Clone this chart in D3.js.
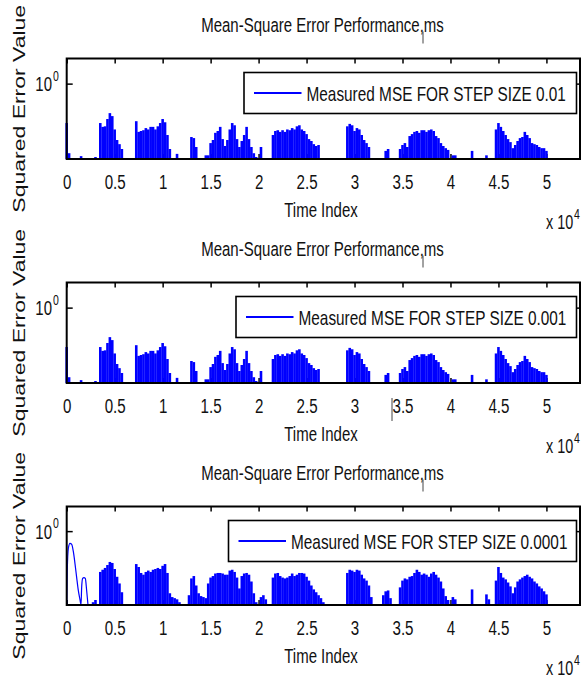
<!DOCTYPE html>
<html>
<head>
<meta charset="utf-8">
<script src="https://cdn.jsdelivr.net/npm/d3@7"></script>
<style>
  html, body { margin: 0; padding: 0; background: #fff; }
  svg { display: block; }
  text { font-family: "Liberation Sans", Arial, Helvetica, sans-serif; fill: #111; }
</style>
</head>
<body>
<svg id="chart" width="582" height="679"></svg>
<script>
// ---- data -----------------------------------------------------------------
// MSE samples are stored every SAMPLE_STEP time indices, starting at 0.
const SAMPLE_STEP = 250;
const xTickValues = [0, 5000, 10000, 15000, 20000, 25000, 30000, 35000, 40000, 45000, 50000];
const yTickValues = [1];
const stepSizes = ["0.01", "0.001", "0.0001"];

// step size 0.01 (0 = below the plotted range)
const mseStep001 = [
  0.027, 0.0017, 0, 0, 0, 0, 0.0013, 0, 0, 0,
  0, 0, 0.0012, 0, 0.027, 0.019, 0.020, 0.039, 0.067, 0.051,
  0.015, 0.0057, 0.0039, 0.0025, 0, 0, 0, 0, 0, 0.032,
  0.012, 0.013, 0.014, 0.017, 0.015, 0.019, 0.019, 0.015, 0.020, 0.027,
  0.039, 0.029, 0.0090, 0.0025, 0, 0, 0.0016, 0, 0, 0,
  0, 0, 0.0075, 0.0068, 0.0030, 0, 0, 0, 0.0014, 0.0014,
  0.0043, 0.0057, 0.011, 0.013, 0.019, 0.0062, 0.0033, 0.0057, 0.015, 0.027,
  0.022, 0.0062, 0.0030, 0.0052, 0.0090, 0.019, 0.0062, 0.0030, 0.0017, 0.0012,
  0, 0.0030, 0, 0, 0, 0, 0.0090, 0.013, 0.014, 0.012,
  0.014, 0.012, 0.015, 0.014, 0.017, 0.015, 0.020, 0.022, 0.015, 0.013,
  0.0098, 0.0062, 0.0052, 0.0039, 0.0033, 0.0036, 0, 0, 0, 0,
  0, 0, 0, 0, 0, 0, 0, 0.020, 0.025, 0.022,
  0.013, 0.017, 0.015, 0.0090, 0.0057, 0.0043, 0.0030, 0, 0, 0,
  0, 0, 0, 0.0021, 0.0025, 0, 0, 0, 0, 0.0025,
  0.0036, 0.0043, 0.0030, 0.0082, 0.0098, 0.012, 0.013, 0.011, 0.014, 0.014,
  0.012, 0.014, 0.015, 0.013, 0.0082, 0.0068, 0.0043, 0.0033, 0.0027, 0.0023,
  0, 0.0014, 0.0014, 0, 0, 0, 0, 0, 0, 0.0021,
  0, 0, 0, 0, 0, 0.0014, 0, 0, 0, 0.015,
  0.027, 0.019, 0.013, 0.0090, 0.0062, 0.0047, 0.0027, 0.0036, 0.0052, 0.0068,
  0.0075, 0.012, 0.0090, 0.0068, 0.0043, 0.0039, 0.0036, 0.0030, 0.0027, 0.0027,
  0.0021
];

// step size 0.001
const mseStep0001 = [
  0.027, 0.0017, 0, 0, 0, 0, 0.0013, 0, 0, 0,
  0, 0, 0.0012, 0, 0.027, 0.019, 0.020, 0.039, 0.067, 0.051,
  0.015, 0.0057, 0.0039, 0.0025, 0, 0, 0, 0, 0, 0.032,
  0.012, 0.013, 0.014, 0.017, 0.015, 0.019, 0.019, 0.015, 0.020, 0.027,
  0.039, 0.029, 0.0090, 0.0025, 0, 0, 0.0016, 0, 0, 0,
  0, 0, 0.0075, 0.0068, 0.0030, 0, 0, 0, 0.0014, 0.0014,
  0.0043, 0.0057, 0.011, 0.013, 0.019, 0.0062, 0.0033, 0.0057, 0.015, 0.027,
  0.022, 0.0062, 0.0030, 0.0052, 0.0090, 0.019, 0.0062, 0.0030, 0.0017, 0.0012,
  0, 0.0030, 0, 0, 0, 0, 0.0090, 0.013, 0.014, 0.012,
  0.014, 0.012, 0.015, 0.014, 0.017, 0.015, 0.020, 0.022, 0.015, 0.013,
  0.0098, 0.0062, 0.0052, 0.0039, 0.0033, 0.0036, 0, 0, 0, 0,
  0, 0, 0, 0, 0, 0, 0, 0.020, 0.025, 0.022,
  0.013, 0.017, 0.015, 0.0090, 0.0057, 0.0043, 0.0030, 0, 0, 0,
  0, 0, 0, 0.0021, 0.0025, 0, 0, 0, 0, 0.0025,
  0.0036, 0.0043, 0.0030, 0.0082, 0.0098, 0.012, 0.013, 0.011, 0.014, 0.014,
  0.012, 0.014, 0.015, 0.013, 0.0082, 0.0068, 0.0043, 0.0033, 0.0027, 0.0023,
  0, 0.0014, 0.0014, 0, 0, 0, 0, 0, 0, 0.0021,
  0, 0, 0, 0, 0, 0.0014, 0, 0, 0, 0.015,
  0.027, 0.019, 0.013, 0.0090, 0.0062, 0.0047, 0.0027, 0.0036, 0.0052, 0.0068,
  0.0075, 0.012, 0.0090, 0.0068, 0.0043, 0.0039, 0.0036, 0.0030, 0.0027, 0.0027,
  0.0021
];

// step size 0.0001 (the opening transient is kept separately below)
const mseStep00001 = [
  0, 0, 0, 0, 0, 0, 0, 0, 0, 0,
  0, 0.0013, 0.0016, 0, 0.022, 0.027, 0.032, 0.042, 0.056, 0.051,
  0.029, 0.014, 0.0075, 0.0033, 0, 0, 0, 0, 0, 0.046,
  0.035, 0.020, 0.017, 0.022, 0.025, 0.022, 0.027, 0.029, 0.032, 0.029,
  0.039, 0.046, 0.020, 0.0030, 0.0021, 0.0019, 0.0017, 0.0013, 0, 0,
  0, 0.0025, 0.012, 0.015, 0.0062, 0.0030, 0.0023, 0.0021, 0.0019, 0.0075,
  0.013, 0.015, 0.019, 0.020, 0.020, 0.019, 0.017, 0.017, 0.025, 0.027,
  0.022, 0.013, 0.0047, 0.015, 0.019, 0.020, 0.017, 0.0090, 0.0030, 0.0013,
  0, 0.0021, 0.0025, 0.0017, 0, 0, 0.013, 0.019, 0.020, 0.015,
  0.013, 0.012, 0.013, 0.015, 0.019, 0.015, 0.017, 0.020, 0.020, 0.019,
  0.014, 0.0098, 0.0062, 0.0043, 0.0033, 0.0025, 0.0019, 0.0013, 0, 0,
  0, 0, 0, 0, 0, 0, 0, 0.020, 0.027, 0.025,
  0.022, 0.027, 0.025, 0.017, 0.012, 0.0098, 0.0062, 0.0021, 0, 0,
  0, 0, 0.0025, 0.0036, 0.0039, 0.0019, 0, 0, 0, 0.0052,
  0.0098, 0.012, 0.011, 0.014, 0.015, 0.020, 0.027, 0.022, 0.017, 0.019,
  0.017, 0.014, 0.019, 0.022, 0.017, 0.013, 0.0090, 0.0047, 0.0023, 0.0016,
  0, 0.0021, 0.0017, 0, 0, 0, 0, 0, 0, 0.0043,
  0, 0, 0, 0, 0, 0.0027, 0.0017, 0, 0, 0.0098,
  0.035, 0.020, 0.013, 0.011, 0.0082, 0.0057, 0.0030, 0.0052, 0.0090, 0.011,
  0.013, 0.015, 0.017, 0.014, 0.012, 0.0090, 0.0075, 0.0057, 0.0047, 0.0036,
  0.0027
];

// opening transient of the 0.0001 run (slow convergence)
const startTime00001 = [0, 60, 170, 340, 520, 690, 870, 1040, 1210, 1390, 1490, 1560, 1660, 1800, 1940, 2080, 2220];
const startMse00001  = [0.001, 0.025, 0.20, 0.32, 0.29, 0.15, 0.046, 0.013, 0.0039, 0.0016, 0.001, 0.0052, 0.012, 0.013, 0.012, 0.0039, 0.001];

// ---- layout ---------------------------------------------------------------
const BLUE = "#0000ff";
const X_LEFT = 66.7, X_RIGHT = 580;
const panels = [
  { top: 58.5,  bottom: 159,   legendLeft: 244,   series: mseStep001 },
  { top: 282.5, bottom: 383,   legendLeft: 236,   series: mseStep0001 },
  { top: 506.5, bottom: 605,   legendLeft: 228.5, series: mseStep00001,
    start: startTime00001.map((t, i) => [t, startMse00001[i]]) }
];

const svg = d3.select("#chart");
const x = d3.scaleLinear().domain([0, 53500]).range([X_LEFT, X_RIGHT]);

// horizontally condensed text, anchored at (px, py)
function hText(g, px, py, str, size, anchor, sx) {
  return g.append("text")
    .attr("transform", `translate(${px},${py}) scale(${sx},1)`)
    .attr("text-anchor", anchor)
    .attr("font-size", size)
    .text(str);
}

panels.forEach((p, k) => {
  const g = svg.append("g");
  const y = d3.scaleLog().domain([1e-3, 10]).range([p.bottom, p.top]).clamp(true);
  const floor = y.domain()[0];

  // ticks (drawn beneath the data)
  const gb = g.append("g").attr("transform", `translate(0,${p.bottom})`)
    .call(d3.axisBottom(x).tickValues(xTickValues).tickSizeInner(-5).tickSizeOuter(0)
      .tickFormat(d => d / 1e4));
  gb.select(".domain").remove();
  gb.selectAll(".tick line").attr("stroke", "#000").attr("stroke-width", 1.5);
  gb.selectAll(".tick text")
    .attr("y", 30.5).attr("dy", null)
    .attr("font-size", 21)
    .attr("transform", "scale(0.72,1)")
    .attr("fill", "#111");

  const gt = g.append("g").attr("transform", `translate(0,${p.top})`)
    .call(d3.axisTop(x).tickValues(xTickValues).tickSizeInner(-5).tickSizeOuter(0).tickFormat(""));
  gt.select(".domain").remove();
  gt.selectAll(".tick line").attr("stroke", "#000").attr("stroke-width", 1.5);

  const gl = g.append("g").attr("transform", `translate(${X_LEFT},0)`)
    .call(d3.axisLeft(y).tickValues(yTickValues).tickSizeInner(-6).tickSizeOuter(0).tickFormat(""));
  gl.select(".domain").remove();
  gl.selectAll(".tick line").attr("stroke", "#000").attr("stroke-width", 1.5);

  const gr = g.append("g").attr("transform", `translate(${X_RIGHT},0)`)
    .call(d3.axisRight(y).tickValues(yTickValues).tickSizeInner(-6).tickSizeOuter(0).tickFormat(""));
  gr.select(".domain").remove();
  gr.selectAll(".tick line").attr("stroke", "#000").attr("stroke-width", 1.5);

  // y tick label 10^0
  yTickValues.forEach(v => {
    const exp = Math.round(Math.log10(v));
    hText(g, 52, y(v) + 7.5, "10", 20, "end", 0.75);
    hText(g, 53, y(v) - 3, String(exp), 14, "start", 0.75);
  });

  // MSE trace: one stem per stored sample
  const pts = p.series.map((v, i) => ({ t: i * SAMPLE_STEP, v })).filter(d => d.v > floor);
  g.append("g").selectAll("line").data(pts).join("line")
    .attr("x1", d => x(d.t)).attr("x2", d => x(d.t))
    .attr("y1", y(floor)).attr("y2", d => y(d.v))
    .attr("stroke", BLUE).attr("stroke-width", 2.6);

  if (p.start) {
    g.append("path").datum(p.start)
      .attr("fill", "none").attr("stroke", BLUE).attr("stroke-width", 1.2)
      .attr("d", d3.line().x(d => x(d[0])).y(d => y(d[1])).curve(d3.curveMonotoneX));
  }

  // legend
  const lx = p.legendLeft, ly = p.top + 14, lw = 576.5 - p.legendLeft, lh = 41;
  g.append("rect").attr("x", lx).attr("y", ly).attr("width", lw).attr("height", lh)
    .attr("fill", "#fff").attr("stroke", "#000").attr("stroke-width", 1.6);
  g.append("line").attr("x1", lx + 10).attr("x2", lx + 57.5)
    .attr("y1", ly + lh / 2).attr("y2", ly + lh / 2)
    .attr("stroke", BLUE).attr("stroke-width", 2);
  hText(g, lx + 62.5, ly + lh / 2 + 7.5, "Measured MSE FOR STEP SIZE " + stepSizes[k], 20.5, "start", 0.75);

  // axes box
  g.append("rect").attr("x", X_LEFT).attr("y", p.top)
    .attr("width", X_RIGHT - X_LEFT).attr("height", p.bottom - p.top)
    .attr("fill", "none").attr("stroke", "#000").attr("stroke-width", 2);

  // title and axis labels
  hText(g, 322.5, p.top - 27, "Mean-Square Error Performance,ms", 19.5, "middle", 0.77);
  g.append("line").attr("x1", 423).attr("x2", 423).attr("y1", p.top - 27).attr("y2", p.top - 15)
    .attr("stroke", "#444").attr("stroke-width", 1);
  hText(g, 321, p.bottom + 58, "Time Index", 20, "middle", 0.75);
  hText(g, 546, p.bottom + 70, "x 10", 20, "start", 0.72);
  hText(g, 574, p.bottom + 60, "4", 14, "start", 0.75);

  g.append("text")
    .attr("transform", `translate(25,${(p.top + p.bottom) / 2}) scale(0.75,1) rotate(-90)`)
    .attr("text-anchor", "middle")
    .attr("font-size", 23)
    .text("Squared Error Value");
});

// stray caret mark beside the 3.5 label of the middle panel
svg.append("line").attr("x1", 392).attr("x2", 392).attr("y1", 398).attr("y2", 421)
  .attr("stroke", "#444").attr("stroke-width", 1);
</script>
</body>
</html>
